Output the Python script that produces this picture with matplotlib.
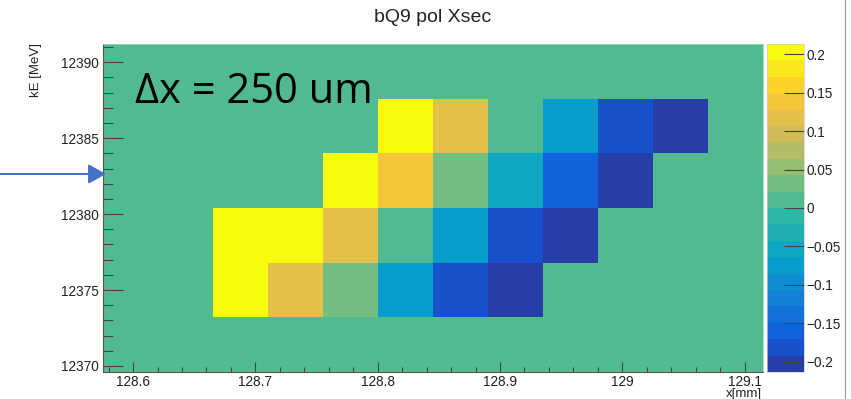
import numpy as np
import matplotlib
matplotlib.use("Agg")
import matplotlib.pyplot as plt
from matplotlib.colors import LinearSegmentedColormap, ListedColormap, BoundaryNorm
from matplotlib.patches import FancyArrowPatch, ArrowStyle
from matplotlib.lines import Line2D
from matplotlib.ticker import MultipleLocator, FixedLocator

# binning of the 2D histogram
x_edges = np.linspace(128.575, 129.115, 13)   # x [mm], 12 bins
y_edges = np.linspace(12369.6, 12391.2, 7)    # kE [MeV], 6 bins

# bin contents, rows go from low kE (bottom) to high kE (top)
row_0 = [0, 0, 0, 0, 0, 0, 0, 0, 0, 0, 0, 0]
row_1 = [0, 0, 0.21, 0.115, 0.03, -0.07, -0.18, -0.205, 0, 0, 0, 0]
row_2 = [0, 0, 0.21, 0.21, 0.115, 0.0, -0.07, -0.18, -0.205, 0, 0, 0]
row_3 = [0, 0, 0, 0, 0.21, 0.14, 0.03, -0.05, -0.15, -0.205, 0, 0]
row_4 = [0, 0, 0, 0, 0, 0.21, 0.115, 0.0, -0.07, -0.18, -0.205, 0]
row_5 = [0, 0, 0, 0, 0, 0, 0, 0, 0, 0, 0, 0]

z_min, z_max = -0.2134, 0.2134
n_contours = 20
cbar_ticks = [-0.2, -0.15, -0.1, -0.05, 0, 0.05, 0.1, 0.15, 0.2]

title = "bQ9 pol Xsec"
x_title = "x[mm]"
y_title = "kE [MeV]"
note = "\u0394x = 250 um"


def bird_palette():
    # ROOT kBird
    stops = [0.0, 0.125, 0.25, 0.375, 0.5, 0.625, 0.75, 0.875, 1.0]
    red = [0.2082, 0.0592, 0.0780, 0.0232, 0.1802, 0.5301, 0.8186, 0.9956, 0.9764]
    green = [0.1664, 0.3599, 0.5041, 0.6419, 0.7178, 0.7492, 0.7328, 0.7862, 0.9832]
    blue = [0.5293, 0.8684, 0.8385, 0.7914, 0.6425, 0.4662, 0.3499, 0.1968, 0.0539]
    cdict = {
        "red": [(s, v, v) for s, v in zip(stops, red)],
        "green": [(s, v, v) for s, v in zip(stops, green)],
        "blue": [(s, v, v) for s, v in zip(stops, blue)],
    }
    return LinearSegmentedColormap("bird", cdict, 255)


def fmt_tick(v):
    if abs(v) < 1e-9:
        return "0"
    s = ("%g" % abs(v))
    return ("\u2212" + s) if v < 0 else s


if __name__ == "__main__":
    plt.rcParams["font.family"] = ["Liberation Sans", "DejaVu Sans"]
    W, H = 851, 399
    fig = plt.figure(figsize=(W / 100, H / 100), dpi=100)

    def box(x0, y0, x1, y1):
        return [x0 / W, 1 - y1 / H, (x1 - x0) / W, (y1 - y0) / H]

    ax = fig.add_axes(box(102.5, 44, 763, 372))
    cax = fig.add_axes(box(767, 44, 804, 372))

    # same colour picking as THistPainter for contour levels
    bird = bird_palette()
    band_colors = [bird((i + 0.99) / n_contours) for i in range(n_contours)]
    cmap = ListedColormap(band_colors)
    levels = np.linspace(z_min, z_max, n_contours + 1)
    norm = BoundaryNorm(levels, cmap.N)

    z = np.array([row_0, row_1, row_2, row_3, row_4, row_5])
    mesh = ax.pcolormesh(x_edges, y_edges, z, cmap=cmap, norm=norm)
    ax.set_xlim(x_edges[0], x_edges[-1])
    ax.set_ylim(y_edges[0], y_edges[-1])

    tick_col = "#444444"
    ax.xaxis.set_major_locator(MultipleLocator(0.1))
    ax.xaxis.set_minor_locator(MultipleLocator(0.02))
    ax.yaxis.set_major_locator(MultipleLocator(5))
    ax.yaxis.set_minor_locator(MultipleLocator(1))
    ax.xaxis.set_major_formatter(plt.FuncFormatter(lambda v, p: "%g" % round(v, 3)))
    ax.tick_params(axis="x", which="major", direction="in", length=7.2, width=0.8,
                   color=tick_col, labelsize=9.8, pad=2, labelcolor="#222222")
    ax.tick_params(axis="x", which="minor", direction="in", length=3.6, width=0.8,
                   color=tick_col)
    ax.tick_params(axis="y", which="major", direction="in", length=14.4, width=0.8,
                   color=tick_col, labelsize=9.8, pad=2.5, labelcolor="#222222")
    ax.tick_params(axis="y", which="minor", direction="in", length=7.2, width=0.8,
                   color=tick_col)
    for side in ["left", "bottom"]:
        ax.spines[side].set_color("#555555")
        ax.spines[side].set_linewidth(0.8)
    for side in ["top", "right"]:
        ax.spines[side].set_color("#9fd3b8")
        ax.spines[side].set_linewidth(0.6)

    cb = fig.colorbar(mesh, cax=cax, boundaries=levels)
    cb.outline.set_edgecolor("#cccccc")
    cb.outline.set_linewidth(0.5)
    cax.yaxis.set_major_locator(FixedLocator(cbar_ticks))
    cax.yaxis.set_minor_locator(FixedLocator([]))
    cax.set_yticklabels([fmt_tick(v) for v in cbar_ticks])
    cax.tick_params(axis="y", direction="in", length=14.4, width=0.8, color=tick_col,
                    labelsize=9.8, pad=2, labelcolor="#222222")

    fig.text(433 / W, 1 - 17 / H, title, ha="center", va="center",
             fontsize=14, color="#222222")
    fig.text(36.5 / W, 1 - 43 / H, y_title, ha="center", va="top",
             rotation=90, fontsize=9.5, color="#222222")
    fig.text(762 / W, 1 - 396.5 / H, x_title, ha="right", va="baseline",
             fontsize=9.5, color="#222222")
    fig.text(135 / W, 1 - 103 / H, note, ha="left", va="baseline",
             fontsize=30, family=["Open Sans", "DejaVu Sans"], color="black")

    arrow = FancyArrowPatch((0, 1 - 174 / H), (106 / W, 1 - 174 / H),
                            transform=fig.transFigure,
                            arrowstyle=ArrowStyle("-|>", head_length=1.08, head_width=0.6),
                            mutation_scale=10, color="#4472C4", lw=1.4,
                            shrinkA=0, shrinkB=0)
    fig.add_artist(arrow)
    fig.add_artist(Line2D([845 / W, 845 / W], [0, 1], transform=fig.transFigure,
                          color="#999999", lw=0.8))

    fig.savefig("out.png", dpi=100)
